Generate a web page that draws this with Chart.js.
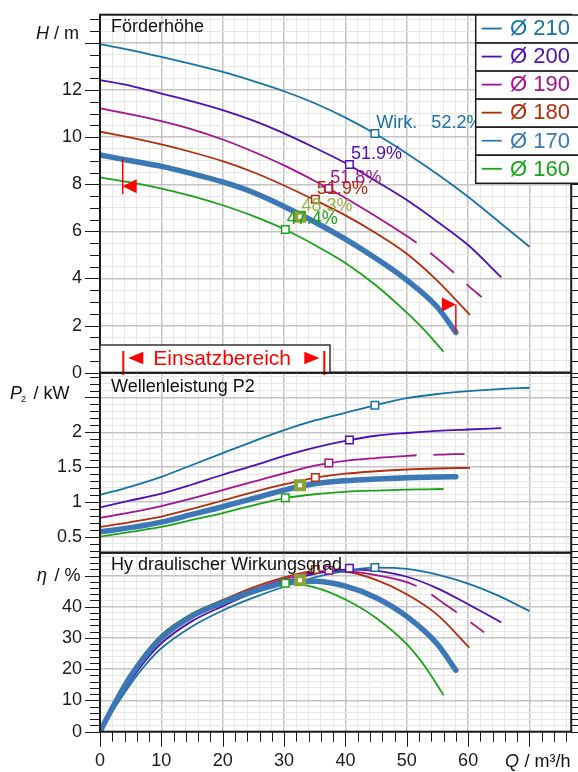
<!DOCTYPE html>
<html>
<head>
<meta charset="utf-8">
<script src="https://cdn.jsdelivr.net/npm/chart.js@4.4.0/dist/chart.umd.min.js"></script>
<style>
html, body { margin: 0; padding: 0; background: #fff; }
#wrap { position: relative; width: 578px; height: 772px; overflow: hidden; }
canvas { position: absolute; left: 0; top: 0; }
</style>
</head>
<body>
<div id="wrap">
  <canvas id="chartH" width="578" height="772"></canvas>
  <canvas id="chartP" width="578" height="772"></canvas>
  <canvas id="chartEta" width="578" height="772"></canvas>
</div>
<script>
// impeller diameters and colours
const diameters = ['Ø 210', 'Ø 200', 'Ø 190', 'Ø 180', 'Ø 170', 'Ø 160'];
const colors = ['#1673a6', '#4f0fb3', '#a3148e', '#b02e0c', '#3b78b5', '#1aa31a'];

// head H (m) and shaft power P2 (kW) against flow Q (m³/h)
const q210 = [0, 5, 10, 15, 20, 25, 30, 35, 40, 45, 50, 55, 60, 65, 70];
const h210 = [13.95, 13.70, 13.41, 13.10, 12.77, 12.38, 11.95, 11.44, 10.83, 10.12, 9.31, 8.43, 7.47, 6.41, 5.35];
const p210 = [1.10, 1.22, 1.36, 1.53, 1.70, 1.87, 2.03, 2.17, 2.28, 2.39, 2.49, 2.55, 2.59, 2.62, 2.64];

const q200 = [0, 5, 10, 15, 20, 25, 30, 35, 40, 45, 50, 55, 60, 65.4];
const h200 = [12.42, 12.18, 11.85, 11.52, 11.15, 10.70, 10.16, 9.55, 8.90, 8.13, 7.33, 6.41, 5.42, 4.05];
const p200 = [0.92, 1.02, 1.12, 1.25, 1.39, 1.52, 1.66, 1.78, 1.875, 1.95, 1.99, 2.02, 2.04, 2.06];

const q190 = [0, 5, 10, 15, 20, 25, 30, 35, 40, 45, 50, 51.6];
const h190 = [11.22, 10.97, 10.68, 10.33, 9.90, 9.38, 8.80, 8.14, 7.42, 6.63, 5.80, 5.52];
const p190 = [0.77, 0.85, 0.94, 1.05, 1.17, 1.29, 1.41, 1.52, 1.59, 1.63, 1.66, 1.67];
// dashed continuation of Ø 190
const q190x = [51.6, 54, 56, 58, 60, 62.2];
const h190x = [5.52, 5.05, 4.62, 4.17, 3.70, 3.21];
const p190x = [1.67, 1.675, 1.68, 1.685, 1.688, 1.69];

const q180 = [0, 5, 10, 15, 20, 25, 30, 35, 40, 45, 50, 55, 60.3];
const h180 = [10.23, 9.98, 9.69, 9.36, 8.98, 8.51, 7.95, 7.33, 6.68, 5.92, 5.05, 3.90, 2.45];
const p180 = [0.64, 0.71, 0.79, 0.90, 1.02, 1.14, 1.25, 1.345, 1.405, 1.44, 1.465, 1.48, 1.49];

const q170 = [0, 5, 10, 15, 20, 25, 30, 35, 40, 45, 50, 55, 58];
const h170 = [9.24, 9.00, 8.76, 8.45, 8.10, 7.65, 7.06, 6.40, 5.67, 4.85, 3.93, 2.78, 1.71];
const p170 = [0.57, 0.63, 0.71, 0.82, 0.93, 1.05, 1.17, 1.26, 1.305, 1.33, 1.348, 1.358, 1.362];

const q160 = [0, 5, 10, 15, 20, 25, 30, 35, 40, 45, 50, 53, 56];
const h160 = [8.29, 8.08, 7.82, 7.50, 7.11, 6.65, 6.10, 5.42, 4.66, 3.70, 2.55, 1.78, 0.89];
const p160 = [0.50, 0.57, 0.64, 0.74, 0.84, 0.95, 1.05, 1.11, 1.145, 1.163, 1.175, 1.18, 1.185];

// hydraulic efficiency (%)
const qe210 = [0, 2.5, 5, 7.5, 10, 15, 20, 25, 30, 35, 40, 45, 50, 55, 60, 65, 70];
const eta210 = [0, 8.0, 15.3, 21.6, 26.7, 33.7, 38.8, 42.9, 46.4, 49.4, 51.5, 52.5, 52.1, 50.3, 47.4, 43.5, 38.6];
const qe200 = [0, 2.5, 5, 7.5, 10, 15, 20, 25, 30, 35, 40, 45, 50, 55, 60, 65.4];
const eta200 = [0, 8.5, 16.3, 23.0, 28.3, 35.4, 40.2, 44.5, 48.0, 50.5, 51.9, 51.5, 49.6, 45.9, 40.8, 35.0];
const qe190 = [0, 2.5, 5, 7.5, 10, 15, 20, 25, 30, 35, 40, 45, 50, 51.6];
const eta190 = [0, 9.2, 17.5, 24.4, 29.9, 36.9, 41.7, 45.6, 48.8, 50.9, 51.3, 50.1, 47.9, 46.6];
const qe190x = [51.6, 54, 56, 58, 60, 62.6];
const eta190x = [46.6, 43.9, 41.1, 38.4, 35.6, 31.8];
const qe180 = [0, 2.5, 5, 7.5, 10, 15, 20, 25, 30, 35, 40, 45, 50, 55, 60.2];
const eta180 = [0, 9.6, 18.2, 25.3, 30.8, 37.6, 42.1, 46.2, 49.4, 51.4, 51.2, 48.6, 44.0, 37.4, 26.9];
const qe170 = [0, 2.5, 5, 7.5, 10, 15, 20, 25, 30, 35, 40, 45, 50, 55, 58];
const eta170 = [0, 9.4, 17.8, 24.6, 30.0, 37.0, 41.3, 44.9, 47.6, 48.2, 46.6, 42.9, 36.9, 28.0, 19.7];
const qe160 = [0, 2.5, 5, 7.5, 10, 15, 20, 25, 30, 35, 40, 45, 50, 53, 56];
const eta160 = [0, 9.7, 18.4, 25.5, 31.0, 37.8, 42.1, 45.3, 47.4, 46.2, 42.3, 36.4, 28.0, 20.8, 11.7];

// best efficiency points
const bepQ = [44.8, 40.65, 37.3, 35.1, 32.6, 30.2];
const bepH = [10.16, 8.84, 7.82, 7.36, 6.62, 6.08];
const bepP = [2.39, 1.89, 1.56, 1.35, 1.24, 1.06];
const bepEta = [52.6, 52.3, 51.7, 51.9, 48.5, 47.5];
const bepText = ['52.2%', '51.9%', '51.8%', '51.9%', '48.3%', '47.4%'];

// operating range of Ø 170
const rangeQ = [3.7, 58.0];
const rangeArrowH = [7.92, 2.9];
const rangeLineTop = [9.07, 2.9];
const rangeLineBottom = [7.58, 1.67];

const X_MAX = 76.8;
const FONT = '"Liberation Sans", Arial, sans-serif';
const GRID_MAJOR = '#c4c4c4';
const GRID_MINOR = '#e9e7e3';
const OLIVE = '#8ba534';
const bepColors = [colors[0], colors[1], colors[2], colors[3], OLIVE, colors[5]];
const bepTextColors = [colors[0], colors[1], colors[2], colors[3], '#97ae45', colors[5]];

function isMult(v, m) { const r = v / m; return Math.abs(r - Math.round(r)) < 1e-6; }
function pts(qs, vs) { return qs.map((q, i) => ({ x: q, y: vs[i] })); }

function curveSets(list, dashed) {
  const sets = list.map((c, i) => ({
    data: pts(c[0], c[1]),
    borderColor: colors[i],
    borderWidth: i === 4 ? 5.5 : 1.8,
    borderCapStyle: i === 4 ? 'round' : 'butt',
    cubicInterpolationMode: 'monotone',
    order: i === 4 ? 1 : 2
  }));
  sets.push({
    data: pts(dashed[0], dashed[1]),
    borderColor: colors[2], borderWidth: 1.8,
    borderDash: [31, 17], borderDashOffset: 31,
    cubicInterpolationMode: 'monotone', order: 2
  });
  return sets;
}

function bepSet(vals) {
  return {
    data: pts(bepQ, vals),
    showLine: false, order: 0,
    pointStyle: 'rect',
    pointRadius: bepQ.map((q, i) => i === 4 ? 5.7 : 5.3),
    pointBorderWidth: bepQ.map((q, i) => i === 4 ? 4 : 1.5),
    pointBorderColor: bepColors,
    pointBackgroundColor: '#ffffff'
  };
}

function makePanelPlugin(cfg) {
  return {
    id: 'panel_' + cfg.name,
    afterDatasetsDraw(chart) {
      if (cfg.overlay) cfg.overlay(chart, chart.ctx);
    },
    afterDraw(chart) {
      const ctx = chart.ctx, a = chart.chartArea;
      const xs = chart.scales.x, ys = chart.scales.y;
      ctx.save();
      ctx.strokeStyle = '#1a1a1a';
      ctx.lineWidth = 1;
      ctx.beginPath();
      ys.ticks.forEach(t => {
        const py = Math.round(ys.getPixelForValue(t.value)) + 0.5;
        const len = isMult(t.value, cfg.yMajor) ? 15 : 10;
        ctx.moveTo(a.left - len, py); ctx.lineTo(a.left, py);
        ctx.moveTo(a.right, py); ctx.lineTo(a.right + 8, py);
      });
      if (cfg.xTicks) {
        xs.ticks.forEach(t => {
          const px = Math.round(xs.getPixelForValue(t.value)) + 0.5;
          const len = isMult(t.value, 10) ? 15 : 10;
          ctx.moveTo(px, a.bottom); ctx.lineTo(px, a.bottom + len);
        });
      }
      ctx.stroke();
      ctx.lineWidth = 2;
      ctx.strokeRect(a.left, a.top, a.right - a.left, a.bottom - a.top);
      ctx.fillStyle = '#111';
      ctx.font = '18px ' + FONT;
      ctx.textBaseline = 'alphabetic';
      ctx.textAlign = 'left';
      ctx.fillText(cfg.title, a.left + 11, a.top + cfg.titleDy);
      if (cfg.after) cfg.after(chart, ctx, a);
      ctx.restore();
    }
  };
}

function panelChart(id, cfg) {
  return new Chart(document.getElementById(id), {
    type: 'line',
    data: { datasets: cfg.datasets },
    options: {
      responsive: false,
      animation: false,
      events: [],
      layout: { padding: { top: cfg.top, bottom: cfg.bottom, left: 0, right: 5 } },
      plugins: { legend: { display: false }, tooltip: { enabled: false } },
      elements: { point: { radius: 0, hoverRadius: 0 } },
      scales: {
        x: {
          type: 'linear', min: 0, max: X_MAX,
          afterFit: s => { s.height = cfg.xHeight; },
          border: { display: false },
          grid: {
            drawTicks: true, tickLength: 18.5, tickColor: 'rgba(0,0,0,0)',
            color: c => (c.tick && isMult(c.tick.value, 10)) ? GRID_MAJOR : GRID_MINOR,
            lineWidth: c => (c.tick && isMult(c.tick.value, 10)) ? 1.5 : 1
          },
          ticks: {
            display: cfg.xTicks, stepSize: 2, includeBounds: false, autoSkip: false,
            maxRotation: 0, padding: 0, color: '#1a1a1a',
            font: { family: FONT, size: 18 },
            callback: v => (isMult(v, 10) && v <= 60) ? String(v) : ''
          }
        },
        y: {
          type: 'linear', min: cfg.yMin, max: cfg.yMax,
          afterFit: s => { s.width = 100; },
          border: { display: false },
          grid: {
            drawTicks: true, tickLength: 18, tickColor: 'rgba(0,0,0,0)',
            color: c => (c.tick && isMult(c.tick.value, cfg.yMajor)) ? GRID_MAJOR : GRID_MINOR,
            lineWidth: c => (c.tick && isMult(c.tick.value, cfg.yMajor)) ? 1.5 : 1
          },
          ticks: {
            stepSize: cfg.yStep, includeBounds: false, autoSkip: false,
            padding: 0, color: '#1a1a1a',
            font: { family: FONT, size: 18 },
            callback: v => (isMult(v, cfg.yMajor) && v <= cfg.yLabelMax) ? String(v) : ''
          }
        }
      }
    },
    plugins: [makePanelPlugin(cfg)]
  });
}

// ---------- Förderhöhe ----------
const setsH = curveSets([[q210, h210], [q200, h200], [q190, h190], [q180, h180], [q170, h170], [q160, h160]], [q190x, h190x]);
setsH.push(bepSet(bepH));

panelChart('chartH', {
  name: 'H', datasets: setsH,
  top: 14.7, bottom: 772 - 372.7, xHeight: 0, xTicks: false,
  yMin: 0, yMax: 15.2, yStep: 0.5, yMajor: 2, yLabelMax: 12,
  title: 'Förderhöhe', titleDy: 17.6,
  overlay(chart, ctx) {
    const xs = chart.scales.x, ys = chart.scales.y;
    ctx.save();
    ctx.font = '18px ' + FONT;
    ctx.textBaseline = 'alphabetic';
    bepQ.forEach((q, i) => {
      const px = xs.getPixelForValue(q) + 1.5;
      const py = ys.getPixelForValue(bepH[i]) - 5.5;
      ctx.fillStyle = bepTextColors[i];
      if (i === 0) {
        ctx.fillText('Wirk.', px, py);
        ctx.fillText(bepText[i], px + 55, py);
      } else {
        ctx.fillText(bepText[i], px, py);
      }
    });
    // operating range marks
    ctx.strokeStyle = '#ff0000';
    ctx.fillStyle = '#ff0000';
    ctx.lineWidth = 1.5;
    rangeQ.forEach((q, i) => {
      const px = xs.getPixelForValue(q);
      ctx.beginPath();
      ctx.moveTo(px, ys.getPixelForValue(rangeLineTop[i]));
      ctx.lineTo(px, ys.getPixelForValue(rangeLineBottom[i]));
      ctx.stroke();
      const py = ys.getPixelForValue(rangeArrowH[i]);
      const dir = i === 0 ? 1 : -1;
      ctx.beginPath();
      ctx.moveTo(px, py);
      ctx.lineTo(px + dir * 14, py - 7);
      ctx.lineTo(px + dir * 14, py + 7);
      ctx.closePath();
      ctx.fill();
    });
    ctx.restore();
  },
  after(chart, ctx, a) {
    // axis title
    ctx.fillStyle = '#111';
    ctx.font = 'italic 18px ' + FONT;
    ctx.fillText('H', 36, 39.3);
    ctx.font = '18px ' + FONT;
    ctx.fillText('/ m', 54, 39.3);

    // Einsatzbereich box
    ctx.fillStyle = '#fff';
    ctx.fillRect(a.left, 345, 230, a.bottom - 345);
    ctx.strokeStyle = '#333';
    ctx.lineWidth = 1.5;
    ctx.strokeRect(a.left, 345, 230, a.bottom - 345);
    ctx.strokeStyle = '#ff0000';
    ctx.fillStyle = '#ff0000';
    ctx.lineWidth = 2;
    ctx.beginPath();
    ctx.moveTo(123.3, 351); ctx.lineTo(123.3, 375);
    ctx.moveTo(324.3, 351); ctx.lineTo(324.3, 375);
    ctx.stroke();
    ctx.beginPath();
    ctx.moveTo(128.3, 358); ctx.lineTo(143.3, 351.7); ctx.lineTo(143.3, 364.3); ctx.closePath();
    ctx.moveTo(319.3, 358); ctx.lineTo(304.3, 351.7); ctx.lineTo(304.3, 364.3); ctx.closePath();
    ctx.fill();
    ctx.font = '21px ' + FONT;
    ctx.fillText('Einsatzbereich', 153.3, 365);

    // legend
    const rowH = 28.05, lx = 475.7, ly = 15;
    diameters.forEach((d, i) => {
      const top = ly + i * rowH;
      ctx.fillStyle = '#fff';
      ctx.fillRect(lx, top, 110, rowH);
      ctx.strokeStyle = '#1a1a1a';
      ctx.lineWidth = 1.5;
      ctx.strokeRect(lx, top, 110, rowH);
      ctx.strokeStyle = colors[i];
      ctx.lineWidth = 1.8;
      ctx.beginPath();
      ctx.moveTo(481.7, top + rowH / 2 - 0.5);
      ctx.lineTo(501.7, top + rowH / 2 - 0.5);
      ctx.stroke();
      ctx.fillStyle = colors[i];
      ctx.font = '22px ' + FONT;
      ctx.fillText(d, 510, top + 20.3);
    });
  }
});

// ---------- Wellenleistung P2 ----------
const setsP = curveSets([[q210, p210], [q200, p200], [q190, p190], [q180, p180], [q170, p170], [q160, p160]], [q190x, p190x]);
setsP.push(bepSet(bepP));

panelChart('chartP', {
  name: 'P', datasets: setsP,
  top: 372.7, bottom: 772 - 552.7, xHeight: 0, xTicks: false,
  yMin: 0.27, yMax: 2.856, yStep: 0.1, yMajor: 0.5, yLabelMax: 2.2,
  title: 'Wellenleistung P2', titleDy: 19,
  after(chart, ctx) {
    ctx.fillStyle = '#111';
    ctx.font = 'italic 18px ' + FONT;
    ctx.fillText('P', 10, 399);
    ctx.font = '9px ' + FONT;
    ctx.fillText('2', 21, 401.5);
    ctx.font = '18px ' + FONT;
    ctx.fillText('/ kW', 33.5, 399);
  }
});

// ---------- Hydraulischer Wirkungsgrad ----------
const setsE = curveSets([[qe210, eta210], [qe200, eta200], [qe190, eta190], [qe180, eta180], [qe170, eta170], [qe160, eta160]], [qe190x, eta190x]);
setsE.push(bepSet(bepEta));

panelChart('chartEta', {
  name: 'E', datasets: setsE,
  top: 552.7, bottom: 0, xHeight: 40.3, xTicks: true,
  yMin: 0, yMax: 57.3, yStep: 2, yMajor: 10, yLabelMax: 45,
  title: 'Hy draulischer Wirkungsgrad', titleDy: 17.3,
  after(chart, ctx) {
    ctx.fillStyle = '#111';
    ctx.font = 'italic 18px ' + FONT;
    ctx.fillText('η', 37, 580.5);
    ctx.font = '18px ' + FONT;
    ctx.fillText('/ %', 54.5, 580.5);
    ctx.font = 'italic 18px ' + FONT;
    ctx.fillText('Q', 505, 766.5);
    ctx.font = '18px ' + FONT;
    ctx.fillText('/ m³/h', 524.5, 766.5);
  }
});
</script>
</body>
</html>
